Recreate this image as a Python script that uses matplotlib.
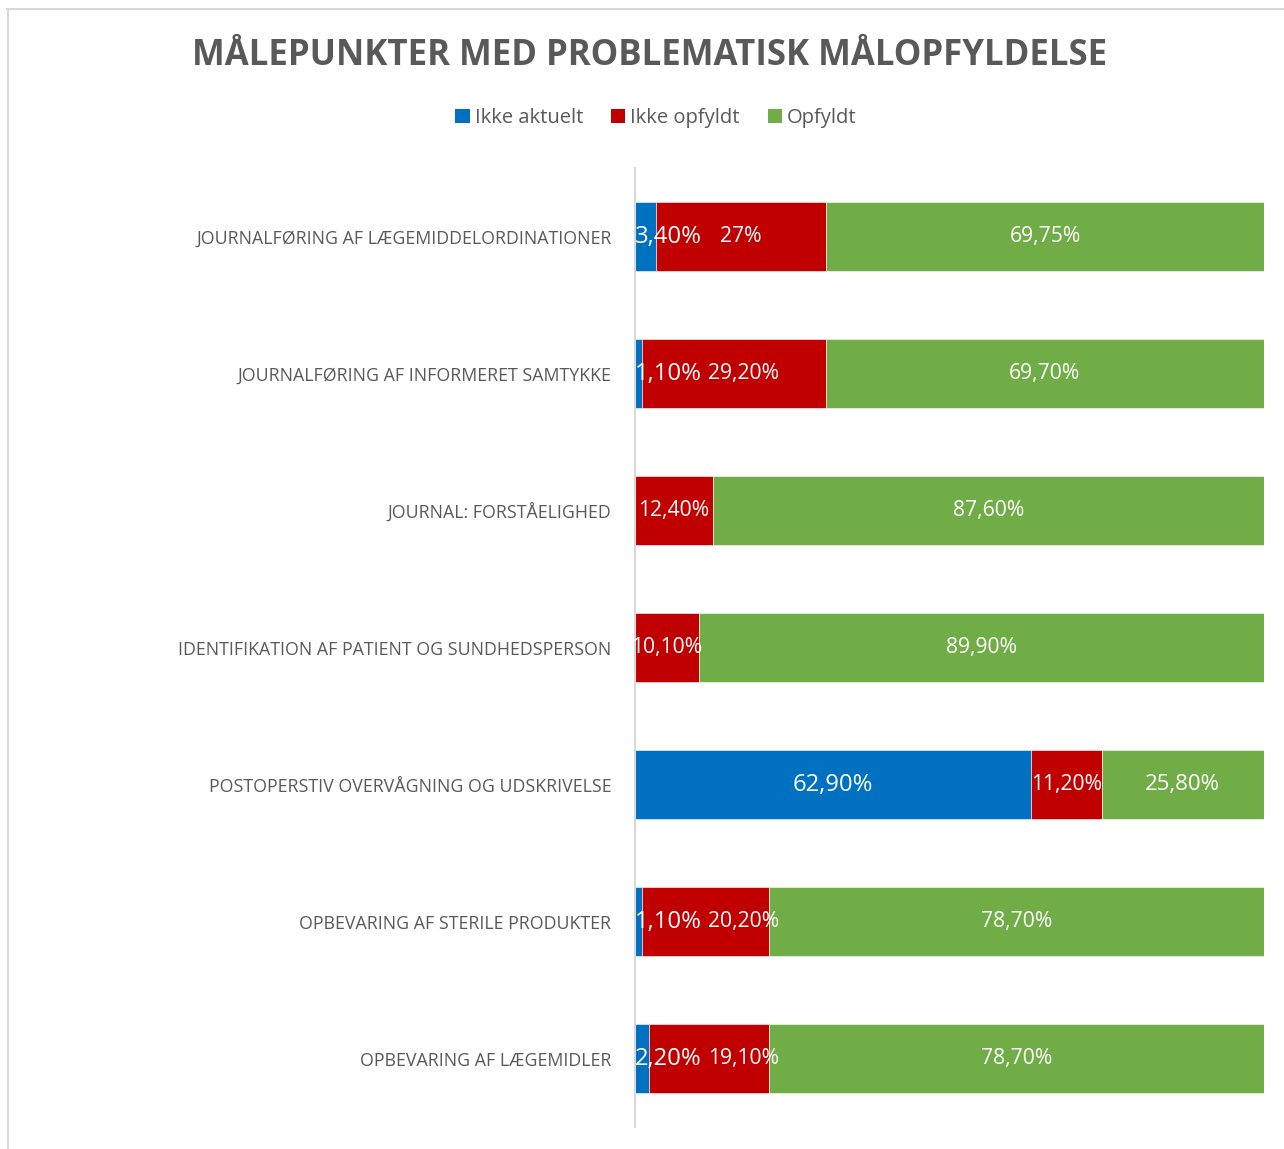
import matplotlib
matplotlib.use("Agg")
import matplotlib.pyplot as plt
from matplotlib.patches import Patch
from matplotlib.lines import Line2D
import numpy as np

plt.rcParams['font.family'] = ['Open Sans', 'DejaVu Sans']

categories = [
    "JOURNALFØRING AF LÆGEMIDDELORDINATIONER",
    "JOURNALFØRING AF INFORMERET SAMTYKKE",
    "JOURNAL: FORSTÅELIGHED",
    "IDENTIFIKATION AF PATIENT OG SUNDHEDSPERSON",
    "POSTOPERSTIV OVERVÅGNING OG UDSKRIVELSE",
    "OPBEVARING AF STERILE PRODUKTER",
    "OPBEVARING AF LÆGEMIDLER",
]
ikke_aktuelt = [3.40, 1.10, 0.0, 0.0, 62.90, 1.10, 2.20]
ikke_opfyldt = [27.0, 29.20, 12.40, 10.10, 11.20, 20.20, 19.10]
opfyldt = [69.75, 69.70, 87.60, 89.90, 25.80, 78.70, 78.70]
series_names = ["Ikke aktuelt", "Ikke opfyldt", "Opfyldt"]
colors = ["#0070C0", "#C00000", "#70AD47"]

W, H = 1284, 1149
fig = plt.figure(figsize=(W / 100, H / 100), dpi=100)
ax = fig.add_axes([635 / W, 1 - 1127 / H, (1264 - 635) / W, (1127 - 168) / H])

data = np.array([ikke_aktuelt, ikke_opfyldt, opfyldt])
totals = data.sum(axis=0)
pct = data / totals * 100
y = np.arange(len(categories))
left = np.zeros(len(categories))
for i in range(3):
    ax.barh(y, pct[i], left=left, height=0.51, color=colors[i],
            edgecolor='white', linewidth=0.4)
    left = left + pct[i]

ax.set_xlim(0, 100)
ax.set_ylim(len(categories) - 0.5, -0.5)
ax.set_yticks(y)
ax.set_yticklabels(categories, fontsize=12.8, color="#595959")
ax.tick_params(axis='y', length=0, pad=17)
ax.set_xticks([])
for s in ['top', 'right', 'bottom']:
    ax.spines[s].set_visible(False)
ax.spines['left'].set_color('#d9d9d9')
ax.spines['left'].set_linewidth(1.5)


def fmt(v):
    if float(v).is_integer():
        return f"{int(v)}%"
    return f"{v:.2f}".replace('.', ',') + "%"


fig.canvas.draw()
renderer = fig.canvas.get_renderer()
px_per_unit = ax.bbox.width / 100.0

LBL = 15.2
BLBL = 17.2
for j in range(len(categories)):
    b, r, g = pct[0, j], pct[1, j], pct[2, j]
    blue_end = None
    if ikke_aktuelt[j] > 0:
        if b < 10:
            t = ax.text(0, j, fmt(ikke_aktuelt[j]), ha='left', va='center',
                        color='white', fontsize=BLBL)
            bb = t.get_window_extent(renderer)
            blue_end = (bb.x1 - ax.bbox.x0) / px_per_unit
        else:
            ax.text(b / 2, j, fmt(ikke_aktuelt[j]), ha='center', va='center',
                    color='white', fontsize=BLBL)
    t = ax.text(b + r / 2, j, fmt(ikke_opfyldt[j]), ha='center', va='center',
                color='white', fontsize=LBL)
    if blue_end is not None:
        bb = t.get_window_extent(renderer)
        wu = bb.width / px_per_unit
        lft = b + r / 2 - wu / 2
        min_left = blue_end + 6 / px_per_unit
        if lft < min_left:
            t.set_x(min_left + wu / 2)
    ax.text(b + r + g / 2, j, fmt(opfyldt[j]), ha='center', va='center',
            color='white', fontsize=LBL if j != 4 else 16)

fig.text(0.506, 1 - 56 / H, "MÅLEPUNKTER MED PROBLEMATISK MÅLOPFYLDELSE",
         ha='center', va='center', fontsize=25, fontweight='bold', color='#595959')

handles = [Patch(facecolor=c, edgecolor='none') for c in colors]
leg = fig.legend(handles, series_names, loc='center', bbox_to_anchor=(0.511, 1 - 118 / H),
                 ncol=3, frameon=False, fontsize=14.5, handlelength=0.7, handleheight=0.7,
                 handletextpad=0.25, columnspacing=1.4)
for txt in leg.get_texts():
    txt.set_color('#595959')

fig.add_artist(Line2D([7 / W, 1], [1 - 9 / H, 1 - 9 / H], transform=fig.transFigure,
                      color='#d9d9d9', linewidth=1.5))
fig.add_artist(Line2D([8 / W, 8 / W], [0, 1 - 9 / H], transform=fig.transFigure,
                      color='#d9d9d9', linewidth=1.5))

fig.savefig("out.png", dpi=100, facecolor='white')
